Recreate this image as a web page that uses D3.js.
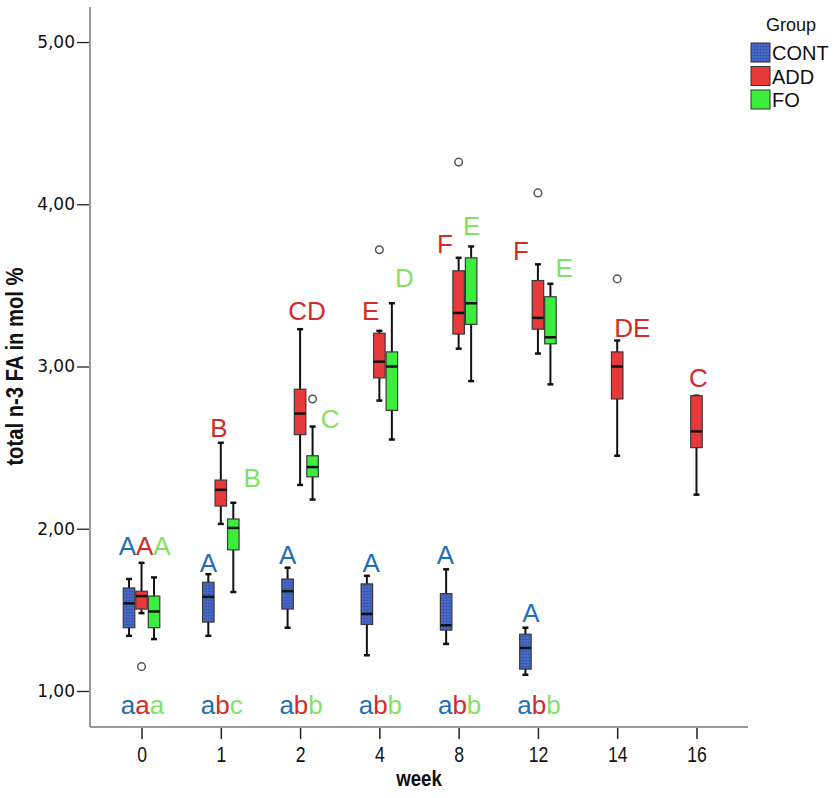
<!DOCTYPE html>
<html><head><meta charset="utf-8">
<script src="https://cdn.jsdelivr.net/npm/d3@7"></script>
<style>body{margin:0;background:#fff}svg{display:block}</style>
</head><body>
<svg id="chart" width="835" height="798"></svg>
<script>
// ---------- data ----------
const weeks = ["0","1","2","4","8","12","14","16"];
const groups = ["CONT","ADD","FO"];
const yTicks = [1,2,3,4,5];
// [min, q1, median, q3, max] per week
const contStats = [
  [1.34,1.39,1.54,1.635,1.69],
  [1.34,1.425,1.58,1.67,1.72],
  [1.39,1.505,1.615,1.69,1.76],
  [1.22,1.41,1.475,1.66,1.71],
  [1.29,1.375,1.405,1.60,1.75],
  [1.10,1.135,1.265,1.35,1.39],
  null, null];
const addStats = [
  [1.48,1.505,1.585,1.615,1.79],
  [2.03,2.14,2.24,2.30,2.53],
  [2.27,2.58,2.71,2.86,3.23],
  [2.79,2.93,3.03,3.205,3.22],
  [3.11,3.20,3.33,3.59,3.67],
  [3.08,3.23,3.30,3.53,3.63],
  [2.45,2.80,3.00,3.09,3.16],
  [2.21,2.50,2.60,2.82,2.82]];
const foStats = [
  [1.32,1.39,1.49,1.585,1.70],
  [1.61,1.87,2.005,2.06,2.16],
  [2.18,2.32,2.38,2.45,2.63],
  [2.55,2.73,3.00,3.09,3.39],
  [2.91,3.26,3.39,3.67,3.74],
  [2.89,3.14,3.18,3.43,3.51],
  null, null];
const outlierWeeks  = ["0","2","4","8","12","14"];
const outlierGroups = ["ADD","FO","ADD","ADD","ADD","ADD"];
const outlierValues = [1.15,2.80,3.72,4.26,4.07,3.54];
// significance letters: week, segments [text, group], y value, x shift (in box slots)
const upperLabels = [
  ["0",[["A","CONT"],["A","ADD"],["A","FO"]],1.838,0.25],
  ["1",[["A","CONT"]],1.733,-1.0],
  ["1",[["B","ADD"]],2.565,-0.15],
  ["1",[["B","FO"]],2.257,2.5],
  ["2",[["A","CONT"]],1.783,-1.0],
  ["2",[["CD","ADD"]],3.287,0.55],
  ["2",[["C","FO"]],2.621,2.4],
  ["4",[["E","ADD"]],3.287,-0.7],
  ["4",[["D","FO"]],3.49,2.0],
  ["4",[["A","CONT"]],1.733,-0.65],
  ["8",[["A","CONT"]],1.783,-1.05],
  ["8",[["F","ADD"]],3.70,-1.1],
  ["8",[["E","FO"]],3.81,1.05],
  ["12",[["F","ADD"]],3.656,-1.35],
  ["12",[["E","FO"]],3.552,2.1],
  ["12",[["A","CONT"]],1.425,-0.55],
  ["14",[["DE","ADD"]],3.182,1.2],
  ["16",[["C","ADD"]],2.874,0.15]
];
const lowerLabelWeeks = ["0","1","2","4","8","12"];
const lowerLabelTexts = ["aaa","abc","abb","abb","abb","abb"];
const lowerLabelValue = 0.858;

// ---------- style ----------
const boxFill = {CONT:"url(#hatch)", ADD:"#e8393b", FO:"#3cee3c"};
const letterColor = {CONT:"#1f6fb2", ADD:"#d42a2a", FO:"#82e25f"};
const legendFill = {CONT:"url(#hatch)", ADD:"#e8393b", FO:"#3cee3c"};

const svg = d3.select("#chart");
const defs = svg.append("defs");
const pat = defs.append("pattern").attr("id","hatch").attr("patternUnits","userSpaceOnUse")
  .attr("width",3).attr("height",3);
pat.append("rect").attr("width",3).attr("height",3).attr("fill","#4163bf");
pat.append("rect").attr("width",1).attr("height",1).attr("fill","#2c4a9c");
pat.append("rect").attr("x",1.5).attr("y",1.5).attr("width",1).attr("height",1).attr("fill","#5777d0");

const mLeft = 90, mRight = 748, mTop = 7, mBottom = 727;
const x = d3.scalePoint().domain(weeks).range([mLeft, mRight]).padding(0.65);
const y = d3.scaleLinear().domain([0.778, 5.216]).range([mBottom, mTop]);
const slot = 12.5, boxW = 11.5;
const gOffset = {CONT:-1, ADD:0, FO:1};

// axes
const yAxis = d3.axisLeft(y).tickValues(yTicks).tickSize(13).tickPadding(2)
  .tickFormat(d => d3.format(".2f")(d).replace(".", ","));
const ya = svg.append("g").attr("transform",`translate(${mLeft},0)`).call(yAxis);
ya.select(".domain").remove();
ya.selectAll(".tick line").attr("stroke","#222").attr("stroke-width",1.3);
ya.selectAll(".tick text").attr("font-family","DejaVu Sans, Verdana, sans-serif")
  .attr("font-size",17).attr("fill","#111");

const xAxis = d3.axisBottom(x).tickSize(12).tickPadding(7);
const xa = svg.append("g").attr("transform",`translate(0,${mBottom})`).call(xAxis);
xa.select(".domain").remove();
xa.selectAll(".tick line").attr("stroke","#222").attr("stroke-width",1.5);
xa.selectAll(".tick text").attr("font-family","Liberation Sans, Arial, sans-serif")
  .attr("font-size",22).attr("fill","#111").attr("transform","scale(0.8,1)");

svg.append("line").attr("x1",mLeft).attr("x2",mLeft).attr("y1",mTop).attr("y2",mBottom)
  .attr("stroke","#9a9a9a").attr("stroke-width",2);
svg.append("line").attr("x1",mLeft).attr("x2",mRight).attr("y1",mBottom).attr("y2",mBottom)
  .attr("stroke","#9a9a9a").attr("stroke-width",2);

svg.append("text").attr("transform",`translate(23,${(y(1)+y(5))/2}) rotate(-90) scale(0.88,1)`)
  .attr("text-anchor","middle").attr("font-family","Liberation Sans, Arial, sans-serif")
  .attr("font-weight","bold").attr("font-size",23).attr("fill","#111")
  .text("total n-3 FA in mol %");
svg.append("text").attr("transform",`translate(${(mLeft+mRight)/2},786) scale(0.85,1)`).attr("text-anchor","middle")
  .attr("font-family","Liberation Sans, Arial, sans-serif")
  .attr("font-weight","bold").attr("font-size",22).attr("fill","#111").text("week");

// boxes
const statsByGroup = {CONT:contStats, ADD:addStats, FO:foStats};
const boxes = [];
groups.forEach(g => weeks.forEach((w,i) => {
  const s = statsByGroup[g][i];
  if (s) boxes.push({g, w, s});
}));
const bg = svg.append("g").selectAll("g").data(boxes).join("g")
  .attr("transform", d => `translate(${x(d.w) + gOffset[d.g]*slot},0)`);
bg.append("line").attr("y1",d=>y(d.s[0])).attr("y2",d=>y(d.s[4]))
  .attr("stroke","#111").attr("stroke-width",2);
bg.append("line").attr("x1",-3).attr("x2",3).attr("y1",d=>y(d.s[4])).attr("y2",d=>y(d.s[4]))
  .attr("stroke","#111").attr("stroke-width",2.5);
bg.append("line").attr("x1",-3).attr("x2",3).attr("y1",d=>y(d.s[0])).attr("y2",d=>y(d.s[0]))
  .attr("stroke","#111").attr("stroke-width",2.5);
bg.append("rect").attr("x",-boxW/2).attr("width",boxW)
  .attr("y",d=>y(d.s[3])).attr("height",d=>y(d.s[1])-y(d.s[3]))
  .attr("fill",d=>boxFill[d.g]).attr("stroke","#3a3a3a").attr("stroke-width",1.2);
bg.append("line").attr("x1",-boxW/2).attr("x2",boxW/2).attr("y1",d=>y(d.s[2])).attr("y2",d=>y(d.s[2]))
  .attr("stroke","#111").attr("stroke-width",2.5);

// outliers
svg.append("g").selectAll("circle").data(outlierValues).join("circle")
  .attr("cx",(d,i)=>x(outlierWeeks[i]) + gOffset[outlierGroups[i]]*slot)
  .attr("cy",d=>y(d)).attr("r",3.8).attr("fill","#fff").attr("stroke","#555").attr("stroke-width",1.5);

// letters
const lg = svg.append("g").attr("font-family","Liberation Sans, Arial, sans-serif").attr("font-size",26);
upperLabels.forEach(([w,segs,v,shift]) => {
  const t = lg.append("text").attr("x", x(w) + shift*slot).attr("y", y(v)).attr("text-anchor","middle");
  segs.forEach(([txt,g]) => t.append("tspan").attr("fill",letterColor[g]).text(txt));
});
lowerLabelWeeks.forEach((w,i) => {
  const t = lg.append("text").attr("x", x(w) + 1).attr("y", y(lowerLabelValue)).attr("text-anchor","middle");
  lowerLabelTexts[i].split("").forEach((c,j) => t.append("tspan").attr("fill",letterColor[groups[j]]).text(c));
});

// legend
const leg = svg.append("g").attr("font-family","Liberation Sans, Arial, sans-serif");
leg.append("text").attr("x",791).attr("y",31).attr("text-anchor","middle").attr("font-size",18).attr("fill","#111").text("Group");
groups.forEach((g,i) => {
  const row = leg.append("g").attr("transform",`translate(751,${43 + i*23.5})`);
  row.append("rect").attr("width",19).attr("height",19).attr("fill",legendFill[g]).attr("stroke","#333").attr("stroke-width",1);
  row.append("text").attr("x",21).attr("y",17).attr("font-size",20).attr("fill","#111").text(g);
});
</script>
</body></html>
